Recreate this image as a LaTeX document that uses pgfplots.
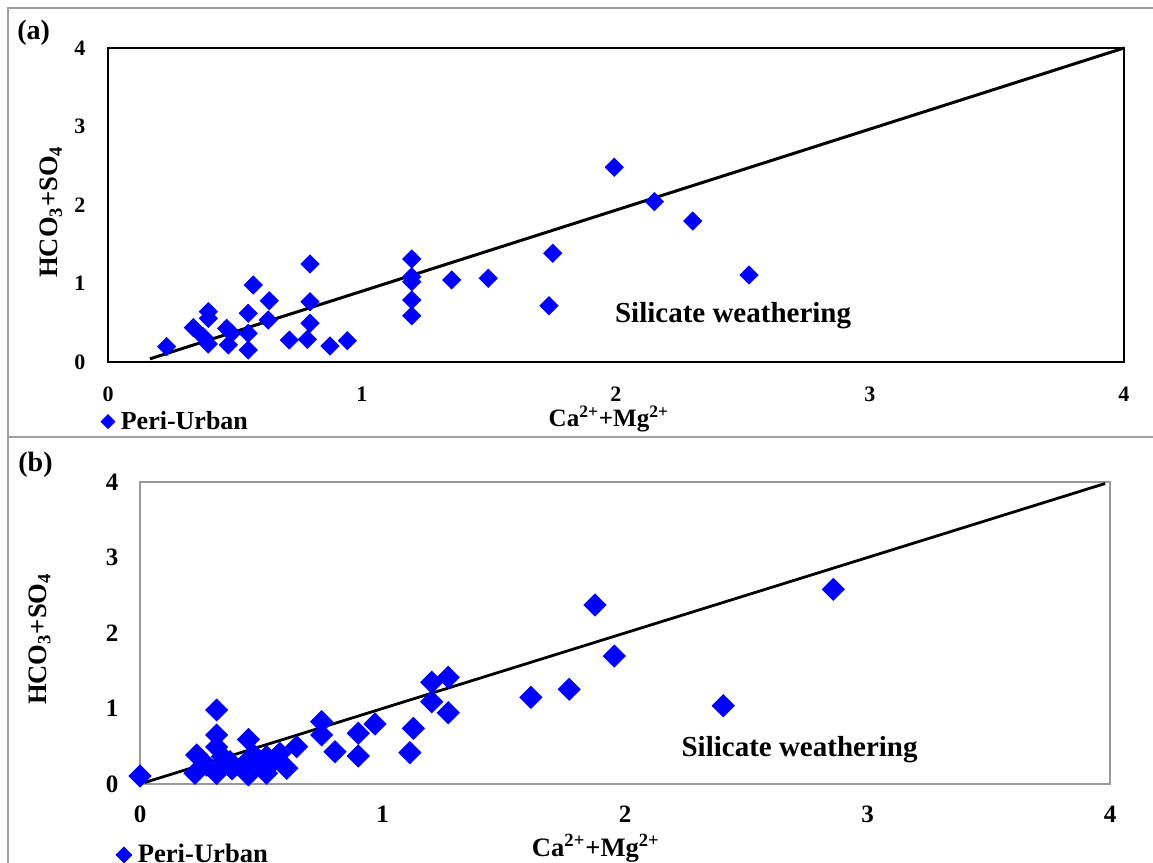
\documentclass[border=0pt]{standalone}
\usepackage{fontspec}
\setmainfont{Liberation Serif}
\usepackage{pgfplots}
\usepackage{pgfplotstable}
\pgfplotsset{compat=1.18}

\newcommand\fs[1]{\fontsize{#1}{#1}\selectfont\bfseries}

% Ca + Mg against HCO3 + SO4, two sampling rounds
\pgfplotstableread{
x y
0.231 0.195
0.336 0.437
0.395 0.641
0.395 0.556
0.375 0.322
0.395 0.229
0.467 0.429
0.474 0.217
0.487 0.365
0.552 0.620
0.552 0.365
0.552 0.153
0.572 0.980
0.635 0.781
0.631 0.535
0.714 0.280
0.795 1.248
0.795 0.768
0.795 0.493
0.785 0.289
0.874 0.204
0.942 0.272
1.196 1.312
1.196 1.087
1.196 1.023
1.196 0.790
1.196 0.590
1.353 1.045
1.497 1.066
1.751 1.385
1.736 0.717
1.993 2.480
2.151 2.042
2.302 1.796
2.524 1.108
}\dataA

\pgfplotstableread{
x y
0.000 0.106
0.234 0.384
0.227 0.142
0.275 0.250
0.316 0.980
0.316 0.649
0.316 0.490
0.316 0.140
0.340 0.360
0.371 0.295
0.380 0.200
0.440 0.295
0.447 0.590
0.447 0.120
0.470 0.380
0.500 0.250
0.522 0.362
0.522 0.142
0.550 0.300
0.577 0.407
0.605 0.208
0.646 0.494
0.749 0.825
0.749 0.649
0.804 0.428
0.900 0.671
0.900 0.371
0.969 0.795
1.127 0.737
1.113 0.415
1.203 1.347
1.203 1.090
1.271 1.413
1.271 0.944
1.612 1.148
1.770 1.254
1.876 2.371
1.956 1.695
2.405 1.037
2.859 2.579
}\dataB

\pgfplotsset{
  panel/.style={
    scale only axis,
    xmin=0, xmax=4, ymin=0, ymax=4,
    xtick={0,1,2,3,4}, ytick={0,1,2,3,4},
    tick style={draw=none},
    /pgf/number format/assume math mode=true,
    clip=false,
    xlabel={Ca\textsuperscript{2+}+Mg\textsuperscript{2+}},
    ylabel={HCO\textsubscript{3}+SO\textsubscript{4}},
    legend cell align=left,
    legend style={draw=none, fill=none, inner sep=0pt, outer sep=0pt,
      nodes={inner sep=0pt}},
  },
  diamonds/.style={only marks, mark=square*, mark size=#1,
    mark options={rotate=45, fill=blue, draw=blue}, blue},
}

\begin{document}
\begin{tikzpicture}
\useasboundingbox (0,0) rectangle (576.5pt,431.5pt);

% panel borders
\draw[gray!75, line width=1.2pt] (4pt,-20pt) -- (4pt,427.5pt) -- (580pt,427.5pt);
\draw[gray!75, line width=1.2pt] (4pt,213pt) -- (580pt,213pt);

% panel labels
\node[anchor=base west, font=\fs{14}, inner sep=0pt] at (8.5pt,411.5pt) {(a)};
\node[anchor=base west, font=\fs{14}, inner sep=0pt] at (9pt,195.5pt) {(b)};

% ---------------- (a) ----------------
\begin{axis}[panel,
  at={(54pt,250.5pt)}, anchor=south west,
  width=508pt, height=157pt,
  axis line style={black, line width=1pt},
  tick label style={font=\fs{11}},
  xticklabel style={yshift=-8.8pt},
  yticklabel style={xshift=-7.8pt},
  every axis x label/.style={at={(rel axis cs:0.493,-0.1815)}, anchor=center, font=\fs{12.5}},
  every axis y label/.style={at={(rel axis cs:-0.0561,0.478)}, rotate=90, anchor=center, font=\fs{13.3}},
  legend style={at={(rel axis cs:-0.0069,-0.19)}, anchor=west, font=\fs{13}},
  legend image code/.code={\draw[#1, mark size=2.45pt] plot coordinates {(0pt,0pt)};},
]
\addplot[black, line width=1.5pt, forget plot] coordinates {(0.165,0.04) (4,4)};
\addplot[diamonds=3.2pt] table {\dataA};
\addlegendentry{\hspace{3pt}Peri-Urban}
\node[anchor=base, font=\fs{14.5}, inner sep=0pt] at (axis cs:2.461,0.497) {Silicate weathering};
\end{axis}

% ---------------- (b) ----------------
\begin{axis}[panel,
  at={(70pt,39.5pt)}, anchor=south west,
  width=485pt, height=151pt,
  axis line style={gray!80, line width=0.6pt},
  tick label style={font=\fs{12.5}},
  xticklabel style={yshift=-7.3pt},
  yticklabel style={xshift=-7.3pt},
  every axis x label/.style={at={(rel axis cs:0.470,-0.212)}, anchor=center, font=\fs{13.3}},
  every axis y label/.style={at={(rel axis cs:-0.1036,0.48)}, rotate=90, anchor=center, font=\fs{13.3}},
  legend style={at={(rel axis cs:-0.0247,-0.235)}, anchor=west, font=\fs{13.3}},
  legend image code/.code={\draw[#1, mark size=2.8pt] plot coordinates {(0pt,0pt)};},
]
\addplot[black, line width=1.4pt, forget plot] coordinates {(0.02,0.02) (3.98,3.98)};
\addplot[diamonds=3.9pt] table {\dataB};
\addlegendentry{\hspace{3pt}Peri-Urban}
\node[anchor=base, font=\fs{14.5}, inner sep=0pt] at (axis cs:2.72,0.358) {Silicate weathering};
\end{axis}
\end{tikzpicture}
\end{document}
